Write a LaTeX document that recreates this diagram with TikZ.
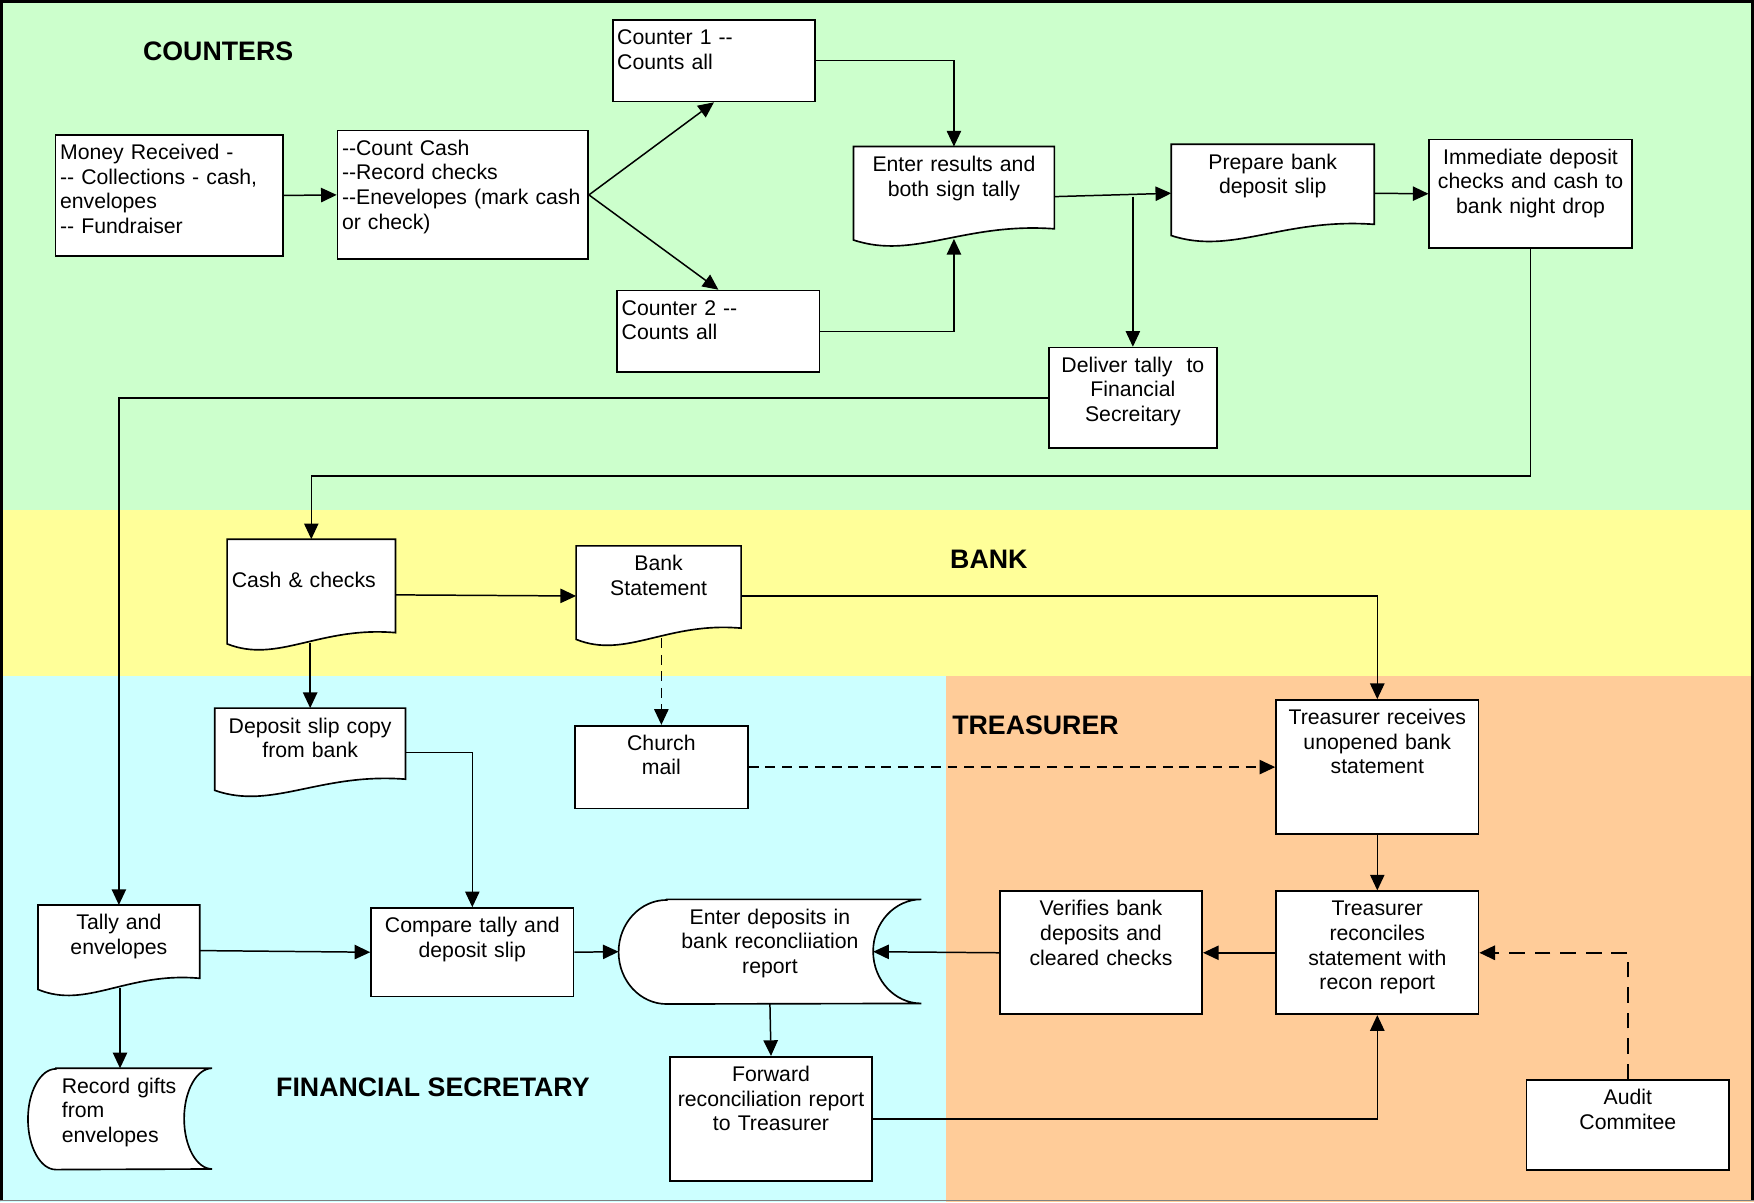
\documentclass[tikz,border=0pt]{standalone}
\usepackage{fontspec}
\setmainfont{Liberation Sans}[Ligatures=TeXOff]
\usetikzlibrary{arrows.meta, calc}
\definecolor{cntGreen}{RGB}{204,255,204}
\definecolor{bankYellow}{RGB}{255,255,153}
\definecolor{finCyan}{RGB}{204,255,255}
\definecolor{treasOrange}{RGB}{255,204,153}
\pgfdeclarelayer{bg}
\pgfdeclarelayer{shp}
\pgfsetlayers{bg,shp,main}
% document outline with wavy bottom
\newcommand\docshape[1]{%
  \draw[outl] (#1.north west) -- (#1.north east) -- ($(#1.south east)+(0,-16)$)
    .. controls ($(#1.south west)!0.55!(#1.south east)+(0,-22)$)
    and ($(#1.south west)!0.3!(#1.south east)+(0,12)$) .. ($(#1.south west)+(0,-6)$) -- cycle;}
% stored data outline
\newcommand\storeshape[3]{%
  \draw[outl] ($(#1.north west)+(#2,0)$) -- (#1.north east)
    arc[start angle=90, end angle=270, x radius=#2, y radius=#3]
    -- ($(#1.south west)+(#2,0)$)
    arc[start angle=270, end angle=90, x radius=#2, y radius=#3] -- cycle;
  \coordinate (#1-in) at ($(#1.east)+(-#2,0)$);}

\begin{document}
\begin{tikzpicture}[x=0.025cm, y=-0.025cm,
  >={Triangle[length=3.5mm, width=3.2mm]},
  lbl/.style={font=\fontsize{13.5}{15.65}\selectfont, inner xsep=1mm, inner ysep=0pt,
              text height=5.5mm, anchor=north west, align=center},
  box/.style={lbl, draw, fill=white, line width=1.05pt},
  doc/.style={lbl},
  outl/.style={draw, fill=white, line width=1.05pt},
  bw/.style={text width=#1*0.025cm-2mm},
  bh/.style={text depth=#1*0.025cm-5.5mm},
  arr/.style={->, line width=0.95pt},
  dsh/.style={arr, dash pattern=on 2.2mm off 1.5mm},
  lane/.style={font=\fontsize{17}{20}\selectfont\bfseries, inner sep=0pt}]
  \useasboundingbox (0,0) rectangle (1568,1074.6);

  % swim lanes
  \begin{pgfonlayer}{bg}
    \fill[cntGreen] (0,0) rectangle (1568,456);
    \fill[bankYellow] (0,456) rectangle (1568,604);
    \fill[finCyan] (0,604) rectangle (846,1074.6);
    \fill[treasOrange] (846,604) rectangle (1568,1074.6);
    \draw[line width=0.7mm] (1.4,1074) -- (1.4,1.4) -- (1566.6,1.4) -- (1566.6,1073);
    \draw[gray, line width=0.3mm] (0,1073.2) -- (1568,1073.2);
  \end{pgfonlayer}

  \node[lane] (tCnt) at (195,46) {COUNTERS};
  \node[lane] (tBank) at (884,500) {BANK};
  \node[lane, anchor=west] (tTreas) at (851,648) {TREASURER};
  \node[lane] (tFin) at (387,972) {FINANCIAL SECRETARY};

  % counters
  \node[box, bw=203, bh=108, align=left] (money) at (49,120) {Money Received -\\-- Collections - cash,\\envelopes\\-- Fundraiser};
  \node[box, bw=224, bh=115, align=left] (count) at (301,116) {--Count Cash\\--Record checks\\--Enevelopes (mark cash\\or check)};
  \node[box, bw=181, bh=73, align=left] (cnt1) at (547,17) {Counter 1 --\\Counts all};
  \node[box, bw=181, bh=73, align=left] (cnt2) at (551,259) {Counter 2 --\\Counts all};
  \node[doc, bw=179, bh=89] (enter) at (763,131) {Enter results and\\both sign tally};
  \node[doc, bw=181, bh=87] (prep) at (1047,129) {Prepare bank\\deposit slip};
  \node[box, bw=181, bh=97] (immed) at (1277,124) {Immediate deposit\\checks and cash to\\bank night drop};
  \node[box, bw=150, bh=90] (deliver) at (937,310) {Deliver tally\ \ to\\Financial\\Secreitary};

  % bank
  \node[doc, bw=150, align=left, text height=10.75mm, text depth=14mm] (cash) at (203,482) {Cash \& checks};
  \node[doc, bw=147, bh=89] (bstmt) at (515,488) {Bank\\Statement};

  % financial secretary
  \node[doc, bw=170, bh=79] (dslip) at (192,633) {Deposit slip copy\\from bank};
  \node[box, bw=155, bh=74] (mail) at (513,648) {Church\\mail};
  \node[doc, bw=144, bh=81] (tally) at (34,809) {Tally and\\envelopes};
  \node[box, bw=181, bh=79] (compare) at (331,811) {Compare tally and\\deposit slip};
  \node[doc, bw=270, bh=93] (enterdep) at (553,804) {Enter deposits in\\bank reconcliiation\\report};
  \node[doc, align=left, inner xsep=7.5mm, text width=26mm, bh=90] (record) at (25,955) {Record gifts\\from\\envelopes};
  \node[box, bw=181, bh=111] (fwd) at (598,944) {Forward\\reconciliation report\\to Treasurer};

  % treasurer
  \node[box, bw=181, bh=120] (trecv) at (1140,625) {Treasurer receives\\unopened bank\\statement};
  \node[box, bw=181, bh=110] (verify) at (893,796) {Verifies bank\\deposits and\\cleared checks};
  \node[box, bw=181, bh=110] (trec) at (1140,796) {Treasurer\\reconciles\\statement with\\recon report};
  \node[box, bw=181, bh=80] (audit) at (1364,965) {Audit\\Commitee};

  \begin{pgfonlayer}{shp}
    \foreach \d in {enter, prep, cash, bstmt, dslip, tally} {\docshape{\d}}
    \storeshape{enterdep}{1.075cm}{1.1625cm}
    \storeshape{record}{0.625cm}{1.125cm}
  \end{pgfonlayer}

  % connectors
  \draw[arr] (money.east) -- (count.west);
  \draw[arr] (count.east) -- (cnt1.south);
  \draw[arr] (count.east) -- (cnt2.north);
  \draw[arr] (cnt1.east) -| (enter.north);
  \draw[arr] (cnt2.east) -| ($(enter.south)+(0,-7)$);
  \draw[arr] (enter.east) -- (prep.west);
  \draw[arr] (enter.east -| deliver.north) -- (deliver.north);
  \draw[arr] (prep.east) -- (immed.west);
  \draw[arr] (deliver.west) -| (tally.north);
  \draw[arr] (immed.south) -- ++(0,203) -| (cash.north);
  \draw[arr] (cash.east) -- (bstmt.west);
  \draw[arr] ($(dslip.north |- cash.south)+(0,-7)$) -- (dslip.north);
  \draw[arr] (bstmt.east) -| (trecv.north);
  \draw[dsh] ($(mail.north |- bstmt.south)+(0,-7)$) -- (mail.north);
  \draw[dsh] (mail.east) -- (trecv.west);
  \draw[arr] (dslip.east) -| (compare.north);
  \draw[arr] (tally.east) -- (compare.west);
  \draw[arr] ($(record.north |- tally.south)+(0,-7)$) -- (record.north);
  \draw[arr] (compare.east) -- (enterdep.west);
  \draw[arr] (trecv.south) -- (trec.north);
  \draw[arr] (trec.west) -- (verify.east);
  \draw[arr] (verify.west) -- (enterdep-in);
  \draw[arr] (enterdep.south) -- (fwd.north);
  \draw[arr] (fwd.east) -| (trec.south);
  \draw[arr, line width=1.4pt, dash pattern=on 3.5mm off 2.2mm] (audit.north) |- (trec.east);
\end{tikzpicture}
\end{document}
